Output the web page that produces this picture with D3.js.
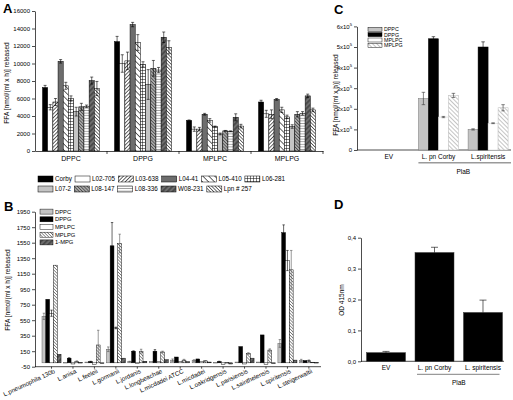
<!DOCTYPE html>
<html><head><meta charset="utf-8">
<script src="https://cdn.jsdelivr.net/npm/d3@7"></script>
<style>
body{margin:0;background:#fff}
svg{display:block}
text{font-family:"Liberation Sans",Arial,sans-serif;fill:#000}
</style>
</head><body>
<svg id="c" width="513" height="400"></svg>
<script>
// ---------- Panel A data ----------
const aGroups = ["DPPC","DPPG","MPLPC","MPLPG"];
const aStrains = ["Corby","L02-705","L03-638","L04-41","L05-410","L06-281","L07-2","L08-147","L08-336","W08-231","Lpn # 257"];
// one row per strain: DPPC, DPPG, MPLPC, MPLPG
const aValues = [
  [7250,12500,3500,5600],
  [5000,10000,2500,4250],
  [5600,10300,2500,4200],
  [10250,14450,4200,5900],
  [7450,12400,3500,4700],
  [6000,9900,2800,3900],
  [4500,7600,1950,2800],
  [5050,9450,2300,4200],
  [5100,9250,2250,4300],
  [8050,13000,3850,6300],
  [7150,11850,2850,4700]
];
const aErrors = [
  [250,600,50,200],
  [300,1000,250,400],
  [400,1000,200,500],
  [200,250,100,100],
  [400,900,200,300],
  [300,300,50,200],
  [500,1700,100,200],
  [400,900,50,300],
  [150,300,50,200],
  [400,600,400,200],
  [800,750,200,200]
];
const aTicks = [0,2000,4000,6000,8000,10000,12000,14000,16000];

// ---------- Panel B data ----------
const bSpecies = ["L.pneumophila 130b","L.anisa","L.feeleii","L.gormanii","L.jordanis","L.longbeachae","L.micdadei ATCC","L.micdadei","L.oakridgensis","L.parisiensis","L.sainthelensis","L.spiritensis","L.steigerwaltii"];
const bSeries = ["DPPC","DPPG","MPLPC","MPLPG","1-MPG"];
const bValues = [
  [600,820,640,1260,110],
  [5,60,-15,20,5],
  [10,15,-20,230,0],
  [175,1510,450,1540,60],
  [15,150,-10,150,20],
  [20,150,20,140,40],
  [35,75,20,35,15],
  [30,50,15,25,10],
  [5,15,-20,5,-15],
  [10,210,-15,120,60],
  [10,360,-20,165,-10],
  [250,1680,1320,1200,35],
  [30,30,25,8,5]
];
const bErrors = [
  [40,0,40,0,0],
  [0,5,0,5,0],
  [0,5,0,190,0],
  [30,300,10,120,0],
  [5,5,0,25,0],
  [0,20,0,10,0],
  [15,0,0,10,0],
  [10,0,0,5,0],
  [0,5,0,0,0],
  [0,0,0,10,0],
  [0,0,0,15,0],
  [50,100,130,250,0],
  [15,0,10,0,0]
];
const bTicks = [-50,150,350,550,750,950,1150,1350,1550,1750,1950];

// ---------- Panel C data ----------
const cGroups = ["EV","L. pn Corby","L.spiritensis"];
const cSeries = ["DPPC","DPPG","MPLPC","MPLPG"];
const cValues = [
  [0,250000,100000],
  [0,540000,500000],
  [0,160000,130000],
  [0,265000,205000]
];
const cErrors = [
  [0,30000,3000],
  [0,10000,25000],
  [0,3000,2000],
  [0,10000,15000]
];
const cTicks = [0,100000,200000,300000,400000,500000,600000];

// ---------- Panel D data ----------
const dGroups = ["EV","L. pn Corby","L. spiritensis"];
const dValues = [0.028,0.352,0.158];
const dErrors = [0.004,0.017,0.04];
const dTicks = [0,0.1,0.2,0.3,0.4];

// ---------- drawing ----------
const svg = d3.select("#c");
const defs = svg.append("defs");
function linePat(id,bg,color,s,angle,sw){
  const p = defs.append("pattern").attr("id",id).attr("patternUnits","userSpaceOnUse")
    .attr("width",s).attr("height",s).attr("patternTransform",`rotate(${angle})`);
  p.append("rect").attr("width",s).attr("height",s).attr("fill",bg);
  p.append("line").attr("x1",s/2).attr("x2",s/2).attr("y1",-1).attr("y2",s+1)
    .attr("stroke",color).attr("stroke-width",sw);
}
linePat("fwd","#fff","#000",2.6,45,0.6);
linePat("bk4","#fff","#000",4.2,-45,0.6);
linePat("bkG","#a8a8a8","#333",2.3,-45,0.6);
linePat("hor","#fff","#555",2.6,90,0.5);
linePat("dkF","#6d6d6d","#111",3.6,45,0.7);
linePat("bkD","#fff","#000",2.4,-45,0.55);
linePat("bkB","#fff","#444",2.2,-45,0.55);
linePat("bkC","#fff","#aaa",3,-45,0.7);
(function(){
  const s=3;
  const p = defs.append("pattern").attr("id","grid").attr("patternUnits","userSpaceOnUse").attr("width",s).attr("height",s);
  p.append("rect").attr("width",s).attr("height",s).attr("fill","#fff");
  p.append("line").attr("x1",0).attr("x2",s).attr("y1",s/2).attr("y2",s/2).attr("stroke","#000").attr("stroke-width",0.5);
  p.append("line").attr("x1",s/2).attr("x2",s/2).attr("y1",0).attr("y2",s).attr("stroke","#000").attr("stroke-width",0.5);
})();

const aFill = ["#000","#fff","url(#fwd)","#6d6d6d","url(#bk4)","url(#grid)","#c4c4c4","url(#bkG)","url(#hor)","url(#dkF)","url(#bkD)"];
const bFill = ["#c4c4c4","#000","#fff","url(#bkB)","url(#dkF)"];
const cFill = ["#c4c4c4","#000","#fff","url(#bkC)"];
const cStroke = ["#777","#000","#ccc","#bbb"];

function styleAxis(g,fs){
  g.attr("font-family",null).attr("font-size",null);
  g.selectAll("text").attr("font-size",fs);
  g.selectAll("path,line").attr("stroke","#000").attr("stroke-width",0.7);
}
function errBar(g,x,yLo,yHi,cap,color){
  const c = color||"#000";
  g.append("line").attr("x1",x).attr("x2",x).attr("y1",yLo).attr("y2",yHi).attr("stroke",c).attr("stroke-width",0.6);
  g.append("line").attr("x1",x-cap/2).attr("x2",x+cap/2).attr("y1",yHi).attr("y2",yHi).attr("stroke",c).attr("stroke-width",0.6);
  g.append("line").attr("x1",x-cap/2).attr("x2",x+cap/2).attr("y1",yLo).attr("y2",yLo).attr("stroke",c).attr("stroke-width",0.6);
}
function panelLabel(t,x,y){
  svg.append("text").attr("x",x).attr("y",y).attr("font-size",13).attr("font-weight","bold").text(t);
}
function yTitle(t,x,y,fs){
  svg.append("text").attr("transform",`translate(${x},${y}) rotate(-90)`).attr("text-anchor","middle")
    .attr("font-size",fs).text(t);
}

// ===== Panel A =====
panelLabel("A",3,13);
const gA = svg.append("g");
const ax = d3.scaleBand().domain(aGroups).range([35,323]);
const axIn = d3.scaleBand().domain(aStrains).range([7.5,64.5]);
const ay = d3.scaleLinear().domain([0,16000]).range([151,11]);
gA.append("g").attr("transform","translate(35,0)")
  .call(d3.axisLeft(ay).tickValues(aTicks).tickSize(3).tickSizeOuter(0).tickPadding(2).tickFormat(d3.format("d")))
  .call(g=>styleAxis(g,6));
const gAx = gA.append("g").attr("transform","translate(0,151)")
  .call(d3.axisBottom(ax).tickSize(0).tickSizeOuter(0).tickPadding(5))
  .call(g=>styleAxis(g,7));
aGroups.forEach((gname,j)=>{
  if(j>0) gA.append("line").attr("x1",ax(gname)).attr("x2",ax(gname)).attr("y1",151).attr("y2",154).attr("stroke","#000").attr("stroke-width",0.7);
});
gA.append("line").attr("x1",323).attr("x2",323).attr("y1",151).attr("y2",154).attr("stroke","#000").attr("stroke-width",0.7);
aStrains.forEach((s,i)=>{
  aGroups.forEach((gname,j)=>{
    const v = aValues[i][j], e = aErrors[i][j];
    const x = ax(gname)+axIn(s), w = axIn.bandwidth();
    gA.append("rect").attr("x",x).attr("y",ay(v)).attr("width",w).attr("height",ay(0)-ay(v))
      .attr("fill",aFill[i]).attr("stroke","#000").attr("stroke-width",0.5);
    errBar(gA,x+w/2,ay(v-e),ay(v+e),3);
  });
});
yTitle("FFA [nmol/(ml x h)] released",9,83,6.5);
// legend A
(function(){
  const rows=[aStrains.slice(0,6),aStrains.slice(6)];
  const tmp = svg.append("text").attr("font-size",6.3);
  const tw = t=>{tmp.text(t);return tmp.node().getComputedTextLength();};
  const sum = rows[0].reduce((a,t)=>a+15+2+tw(t),0);
  const gap = (247-sum)/5;
  rows.forEach((row,r)=>{
    let x=38; const y=[179,189][r];
    row.forEach(t=>{
      const i=aStrains.indexOf(t);
      svg.append("rect").attr("x",x).attr("y",y-3).attr("width",15).attr("height",6)
        .attr("fill",aFill[i]).attr("stroke","#000").attr("stroke-width",0.5);
      svg.append("text").attr("x",x+17).attr("y",y+2.2).attr("font-size",6.3).text(t);
      x += 17+tw(t)+gap;
    });
  });
  tmp.remove();
})();

// ===== Panel B =====
panelLabel("B",4,211);
const gB = svg.append("g");
const bx = d3.scaleBand().domain(bSpecies).range([40.8,319.6]);
const bxIn = d3.scaleBand().domain(bSeries).range([1.2,bx.bandwidth()-1.2]);
const by = d3.scaleLinear().domain([-50,1950]).range([366.7,211.7]);
gB.append("g").attr("transform","translate(35,0)")
  .call(d3.axisLeft(by).tickValues(bTicks).tickSize(3).tickSizeOuter(0).tickPadding(2).tickFormat(d=>String(d)))
  .call(g=>styleAxis(g,6));
const gBx = gB.append("g").attr("transform","translate(0,366.7)")
  .call(d3.axisBottom(bx).tickSize(2).tickSizeOuter(0))
  .call(g=>styleAxis(g,6.2));
gBx.select(".domain").attr("d","M35,0H321");
gBx.selectAll(".tick text").attr("text-anchor","end").attr("x",1).attr("y",4).attr("dy","0.5em")
  .attr("transform","rotate(-25)");
bSpecies.forEach((sp,i)=>{
  bSeries.forEach((se,j)=>{
    const v=bValues[i][j], e=bErrors[i][j];
    const x=bx(sp)+bxIn(se), w=bxIn.bandwidth();
    const y0=by(0), y1=by(v);
    gB.append("rect").attr("x",x).attr("y",Math.min(y0,y1)).attr("width",w).attr("height",Math.max(0.6,Math.abs(y0-y1)))
      .attr("fill",bFill[j]).attr("stroke",j===0?"#555":"#000").attr("stroke-width",0.45);
    if(e>0) errBar(gB,x+w/2,by(v-e),by(v+e),2.4,j===0||j===3?"#555":"#000");
  });
});
bSeries.forEach((se,j)=>{
  const y=211.6+7.7*j;
  svg.append("rect").attr("x",40).attr("y",y-2.5).attr("width",13).attr("height",5)
    .attr("fill",bFill[j]).attr("stroke","#000").attr("stroke-width",0.45);
  svg.append("text").attr("x",55).attr("y",y+2).attr("font-size",5.8).text(se);
});
yTitle("FFA [nmol/(ml x h)] released",10,290,6.5);

// ===== Panel C =====
panelLabel("C",334,14);
const gC = svg.append("g");
const cx = d3.scaleBand().domain(cGroups).range([364,513]);
const cxIn = d3.scaleBand().domain(cSeries).range([4.75,44.75]);
const cy = d3.scaleLinear().domain([0,600000]).range([150,26.4]);
gC.append("g").attr("transform","translate(357,0)")
  .call(d3.axisLeft(cy).tickValues(cTicks).tickSize(3).tickSizeOuter(0).tickPadding(2)
    .tickFormat(d=>d===0?"0":(d/100000)+"x10"))
  .call(g=>styleAxis(g,6))
  .call(g=>g.selectAll(".tick text").filter(d=>d>0).append("tspan").attr("dy",-3).attr("font-size",4.2).text("5"));
const gCx = gC.append("g").attr("transform","translate(0,150)")
  .call(d3.axisBottom(cx).tickSize(0).tickSizeOuter(0).tickPadding(4))
  .call(g=>styleAxis(g,6.5));
gCx.select(".domain").attr("d","M357,0H511");
cSeries.forEach((se,j)=>{
  cGroups.forEach((gname,i)=>{
    const v=cValues[j][i], e=cErrors[j][i];
    if(v<=0) return;
    const x=cx(gname)+cxIn(se), w=cxIn.bandwidth();
    gC.append("rect").attr("x",x).attr("y",cy(v)).attr("width",w).attr("height",cy(0)-cy(v))
      .attr("fill",cFill[j]).attr("stroke",cStroke[j]).attr("stroke-width",0.5);
    errBar(gC,x+w/2,cy(v-e),cy(v+e),3.5,j===1?"#000":"#333");
  });
});
gC.append("line").attr("x1",cx("L. pn Corby")+cxIn(cSeries[0])).attr("x2",cx("L.spiritensis")+cx.bandwidth()-2)
  .attr("y1",162.7).attr("y2",162.7).attr("stroke","#9a9a9a").attr("stroke-width",1.5);
gC.append("text").attr("x",(cx("L. pn Corby")+cx("L.spiritensis")+cx.bandwidth())/2).attr("y",173.5)
  .attr("text-anchor","middle").attr("font-size",6.5).text("PlaB");
cSeries.forEach((se,j)=>{
  const y=29.3+5.35*j;
  svg.append("rect").attr("x",368).attr("y",y-2).attr("width",14).attr("height",4)
    .attr("fill",cFill[j]).attr("stroke","#000").attr("stroke-width",0.45);
  svg.append("text").attr("x",384).attr("y",y+2).attr("font-size",5.3).text(se);
});
yTitle("FFA [nmol/(ml x h)] released",338,95,6.5);

// ===== Panel D =====
panelLabel("D",334,209);
const gD = svg.append("g");
const dx = d3.scaleBand().domain(dGroups).range([362,507]).paddingInner(0.196).paddingOuter(0.093);
const dy = d3.scaleLinear().domain([0,0.4]).range([361.3,237.7]);
gD.append("g").attr("transform","translate(361,0)")
  .call(d3.axisLeft(dy).tickValues(dTicks).tickSize(3).tickSizeOuter(0).tickPadding(2)
    .tickFormat(d=>d.toFixed(1).replace(".",",")))
  .call(g=>styleAxis(g,6));
const gDx = gD.append("g").attr("transform","translate(0,361.3)")
  .call(d3.axisBottom(dx).tickSize(0).tickSizeOuter(0).tickPadding(4))
  .call(g=>styleAxis(g,6.5));
gDx.select(".domain").attr("d","M361,0H504");
dGroups.forEach((gname,i)=>{
  const v=dValues[i], e=dErrors[i];
  const x=dx(gname), w=dx.bandwidth();
  gD.append("rect").attr("x",x).attr("y",dy(v)).attr("width",w).attr("height",dy(0)-dy(v))
    .attr("fill","#000").attr("stroke","#333").attr("stroke-width",0.5);
  gD.append("line").attr("x1",x+w/2).attr("x2",x+w/2).attr("y1",dy(v)).attr("y2",dy(v+e)).attr("stroke","#000").attr("stroke-width",0.6);
  gD.append("line").attr("x1",x+w/2-3.5).attr("x2",x+w/2+3.5).attr("y1",dy(v+e)).attr("y2",dy(v+e)).attr("stroke","#000").attr("stroke-width",0.6);
});
gD.append("line").attr("x1",dx("L. pn Corby")+2).attr("x2",dx("L. spiritensis")+dx.bandwidth()-3)
  .attr("y1",374.3).attr("y2",374.3).attr("stroke","#9a9a9a").attr("stroke-width",1.2);
gD.append("text").attr("x",(dx("L. pn Corby")+dx("L. spiritensis")+dx.bandwidth())/2).attr("y",385)
  .attr("text-anchor","middle").attr("font-size",6.5).text("PlaB");
yTitle("OD 415nm",344,300,6.5);
</script>
</body></html>
